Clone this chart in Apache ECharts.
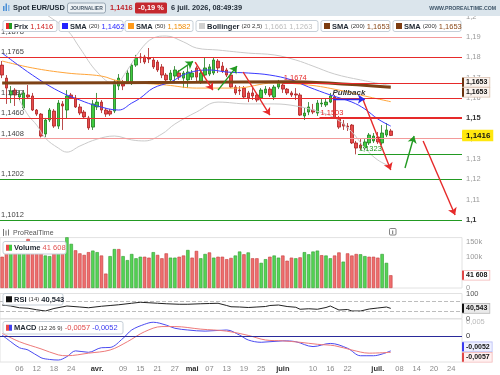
<!DOCTYPE html>
<html>
<head>
<meta charset="utf-8">
<title>Spot EUR/USD</title>
<script src="https://cdn.jsdelivr.net/npm/echarts@6.0.0/dist/echarts.min.js"></script>
<style>
    html, body { margin: 0; padding: 0; background: #fff; }
    #chart { width: 500px; height: 375px; }
</style>
</head>
<body>
<div id="chart"></div>
<script>
const FONT = '"Liberation Sans", Arial, sans-serif';

// trading days on the axis: 2 mars 2026 -> 28 juil. 2026
const FIRST_DAY = Date.UTC(2026, 2, 2);
const DAY_COUNT = 107;

const TICK_LABELS = [
    ['03-06', '06'], ['03-12', '12'], ['03-18', '18'], ['03-24', '24'], ['04-01', 'avr.'],
    ['04-09', '09'], ['04-15', '15'], ['04-21', '21'], ['04-27', '27'], ['05-01', 'mai'],
    ['05-07', '07'], ['05-13', '13'], ['05-19', '19'], ['05-25', '25'], ['06-01', 'juin'],
    ['06-10', '10'], ['06-16', '16'], ['06-22', '22'], ['07-01', 'juil.'], ['07-08', '08'],
    ['07-14', '14'], ['07-20', '20'], ['07-24', '24']
];
const MONTH_LABELS = ['avr.', 'mai', 'juin', 'juil.'];

const priceTicks = [1.10, 1.11, 1.12, 1.13, 1.14, 1.15, 1.16, 1.17, 1.18, 1.19, 1.20];
const volumeTicks = [0, 100, 150];
const rsiTicks = [0, 100];
const macdTicks = [0, 0.005];

// daily candles [open, close, low, high]
const candles = [
    [1.1762, 1.1713, 1.1698, 1.1782], [1.1698, 1.1649, 1.1571, 1.1713], [1.1615, 1.1635, 1.1575, 1.1659],
    [1.1639, 1.1615, 1.1561, 1.1649], [1.1605, 1.1620, 1.1590, 1.1639], [1.1551, 1.1625, 1.1541, 1.1639],
    [1.1615, 1.1605, 1.1595, 1.1664], [1.1610, 1.1541, 1.1536, 1.1625], [1.1541, 1.1521, 1.1512, 1.1546],
    [1.1521, 1.1413, 1.1406, 1.1526], [1.1423, 1.1492, 1.1408, 1.1502], [1.1492, 1.1541, 1.1482, 1.1551],
    [1.1536, 1.1462, 1.1453, 1.1546], [1.1462, 1.1575, 1.1448, 1.1590], [1.1571, 1.1561, 1.1443, 1.1585],
    [1.1541, 1.1610, 1.1497, 1.1639], [1.1615, 1.1600, 1.1595, 1.1625], [1.1600, 1.1556, 1.1551, 1.1615],
    [1.1556, 1.1526, 1.1516, 1.1571], [1.1531, 1.1507, 1.1502, 1.1541], [1.1502, 1.1453, 1.1443, 1.1512],
    [1.1457, 1.1571, 1.1443, 1.1590], [1.1556, 1.1580, 1.1541, 1.1625], [1.1580, 1.1541, 1.1526, 1.1590],
    [1.1541, 1.1521, 1.1507, 1.1551], [1.1536, 1.1521, 1.1512, 1.1546], [1.1536, 1.1679, 1.1526, 1.1689],
    [1.1659, 1.1698, 1.1639, 1.1718], [1.1669, 1.1659, 1.1639, 1.1689], [1.1679, 1.1723, 1.1669, 1.1738],
    [1.1674, 1.1762, 1.1664, 1.1772], [1.1762, 1.1797, 1.1753, 1.1812], [1.1802, 1.1797, 1.1772, 1.1821],
    [1.1802, 1.1777, 1.1767, 1.1812], [1.1797, 1.1792, 1.1772, 1.1846], [1.1787, 1.1753, 1.1743, 1.1802],
    [1.1777, 1.1738, 1.1728, 1.1787], [1.1753, 1.1713, 1.1698, 1.1767], [1.1713, 1.1689, 1.1679, 1.1723],
    [1.1689, 1.1723, 1.1679, 1.1738], [1.1708, 1.1738, 1.1684, 1.1757], [1.1723, 1.1703, 1.1689, 1.1738],
    [1.1698, 1.1723, 1.1649, 1.1733], [1.1689, 1.1728, 1.1649, 1.1757], [1.1703, 1.1723, 1.1689, 1.1738],
    [1.1748, 1.1703, 1.1674, 1.1757], [1.1679, 1.1723, 1.1669, 1.1738], [1.1713, 1.1748, 1.1703, 1.1797],
    [1.1718, 1.1753, 1.1708, 1.1767], [1.1723, 1.1787, 1.1713, 1.1797], [1.1782, 1.1748, 1.1723, 1.1792],
    [1.1757, 1.1733, 1.1723, 1.1777], [1.1738, 1.1713, 1.1703, 1.1748], [1.1713, 1.1654, 1.1649, 1.1728],
    [1.1654, 1.1625, 1.1615, 1.1664], [1.1639, 1.1635, 1.1615, 1.1659], [1.1649, 1.1605, 1.1600, 1.1659],
    [1.1625, 1.1600, 1.1580, 1.1635], [1.1625, 1.1610, 1.1590, 1.1649], [1.1615, 1.1590, 1.1580, 1.1625],
    [1.1600, 1.1639, 1.1590, 1.1649], [1.1625, 1.1644, 1.1615, 1.1659], [1.1644, 1.1615, 1.1605, 1.1654],
    [1.1605, 1.1654, 1.1590, 1.1664], [1.1654, 1.1674, 1.1644, 1.1689], [1.1664, 1.1644, 1.1625, 1.1674],
    [1.1644, 1.1625, 1.1615, 1.1649], [1.1625, 1.1615, 1.1605, 1.1635], [1.1620, 1.1615, 1.1590, 1.1649],
    [1.1615, 1.1516, 1.1512, 1.1625], [1.1512, 1.1526, 1.1492, 1.1551], [1.1531, 1.1556, 1.1516, 1.1580],
    [1.1541, 1.1531, 1.1521, 1.1571], [1.1526, 1.1575, 1.1512, 1.1590], [1.1571, 1.1575, 1.1556, 1.1595],
    [1.1566, 1.1580, 1.1556, 1.1600], [1.1580, 1.1610, 1.1575, 1.1625], [1.1605, 1.1502, 1.1497, 1.1615],
    [1.1502, 1.1457, 1.1448, 1.1512], [1.1472, 1.1462, 1.1443, 1.1492], [1.1462, 1.1457, 1.1438, 1.1477],
    [1.1467, 1.1379, 1.1374, 1.1472], [1.1379, 1.1354, 1.1323, 1.1389], [1.1369, 1.1354, 1.1344, 1.1398],
    [1.1354, 1.1384, 1.1344, 1.1398], [1.1379, 1.1418, 1.1369, 1.1428], [1.1389, 1.1413, 1.1379, 1.1428],
    [1.1408, 1.1384, 1.1374, 1.1433], [1.1379, 1.1428, 1.1369, 1.1467], [1.1418, 1.1443, 1.1408, 1.1477],
    [1.1438, 1.1416, 1.1413, 1.1448]
];

// indicators: [session index, value]
const sma20 = [[0, 1.1821], [7, 1.1713], [13, 1.1635], [18, 1.1590], [22, 1.1561], [27, 1.1541], [30, 1.1575],
    [32, 1.1600], [35, 1.1649], [39, 1.1679], [43, 1.1723], [48, 1.1738], [52, 1.1728], [57, 1.1723],
    [62, 1.1713], [67, 1.1689], [71, 1.1654], [76, 1.1615], [81, 1.1580], [84, 1.1546], [87, 1.1497], [90, 1.1462]];
const sma50 = [[0, 1.1782], [7, 1.1748], [15, 1.1723], [23, 1.1708], [27, 1.1684], [38, 1.1664], [45, 1.1649],
    [54, 1.1649], [63, 1.1674], [71, 1.1664], [78, 1.1639], [85, 1.1605], [90, 1.1582]];
const sma200 = [[0, 1.1674], [45, 1.1677], [66, 1.1680], [90, 1.1653]];
const bollUpper = [[0, 1.2230], [9, 1.2033], [15, 1.1935], [18, 1.1846], [22, 1.1728], [26, 1.1669], [29, 1.1738],
    [32, 1.1836], [35, 1.1895], [38, 1.1905], [42, 1.1876], [45, 1.1846], [50, 1.1836], [57, 1.1821],
    [63, 1.1812], [68, 1.1787], [72, 1.1757], [77, 1.1718], [83, 1.1689], [90, 1.1661]];
const bollLower = [[4, 1.1590], [6, 1.1516], [8, 1.1467], [10, 1.1403], [13, 1.1354], [15, 1.1334], [18, 1.1364],
    [22, 1.1398], [26, 1.1413], [30, 1.1394], [33, 1.1389], [37, 1.1423], [40, 1.1472], [45, 1.1531],
    [50, 1.1580], [57, 1.1571], [63, 1.1571], [68, 1.1561], [72, 1.1541], [77, 1.1502], [81, 1.1433],
    [84, 1.1354], [87, 1.1295], [90, 1.1263]];

// horizontal levels
const resistanceLevels = [1.1878, 1.1765, 1.1587, 1.1460, 1.1408];
const supportLevels = [1.1202, 1.1012];
const partialResistances = [[65, 1.1674], [73.5, 1.1503]];   // [from index, value]
const partialSupports = [[82.4, 1.1323]];

// drawn arrows [[from], [to]]
const arrowsUp = [[[40.3, 1.1723], [44.2, 1.1780]], [[50, 1.1639], [54.4, 1.1757]], [[93.3, 1.1256], [95.4, 1.1413]]];
const arrowsDown = [[[44.7, 1.1777], [48.8, 1.1639]], [[55.8, 1.1728], [62, 1.1516]],
    [[83.6, 1.1590], [90, 1.1246]], [[97.5, 1.1389], [104.9, 1.1025]]];
const pullbackArrow = [[76.6, 1.1595], [84, 1.1595]];

// volume (thousands) and bar direction u/d
const volumes = [102, 120, 125, 118, 130, 128, 160, 122, 125, 150, 106, 104, 115, 120, 112,
    167, 144, 123, 113, 108, 117, 122, 117, 106, 47, 104, 127, 127, 104, 91, 111, 97, 102, 102, 99,
    117, 108, 97, 113, 99, 99, 102, 106, 124, 99, 121, 97, 111, 116, 99, 102, 102, 94, 98, 106, 119, 110,
    116, 97, 97, 82, 94, 102, 106, 99, 106, 89, 99, 97, 100, 117, 110, 119, 122, 107, 106, 97, 106, 116,
    86, 113, 106, 111, 110, 104, 102, 102, 99, 111, 82, 41.608];
const volumeDirs = ['dduduu', 'dddduu', 'dud',
    'uudddd', 'uudduu', 'duuuuu', 'ddu' + 'ddd', 'uuddud', 'duudud', 'ddduud',
    'udduud', 'uudddu', 'duuuud', 'uuddud', 'dduudd', 'duud'].join('');

const rsi = [[0, 54], [2, 50], [4, 43], [6, 41], [8, 35], [10, 30], [12, 40], [15, 50], [18, 46], [20, 43],
    [23, 49], [25, 52], [27, 55], [30, 61], [32, 65], [34, 63], [36, 61], [38, 59], [41, 57], [43, 57],
    [46, 59], [48, 60], [50, 61], [52, 52], [53, 47], [55, 46], [57, 44], [59, 46], [61, 48], [62, 52],
    [64, 54], [66, 48], [68, 45], [69, 37], [71, 39], [73, 37], [75, 44], [76, 50], [77, 42], [78, 34],
    [80, 36], [81, 30], [83, 30], [85, 38], [87, 42], [89, 46], [90, 40.543]];
const macd = [[0, 0.0003], [2, -0.0020], [4, -0.0041], [6, -0.0049], [9, -0.0076], [11, -0.0082], [13, -0.0084],
    [15, -0.0072], [17, -0.0052], [20, -0.0057], [23, -0.0041], [25, -0.0040], [28, -0.0008], [30, 0.0021],
    [33, 0.0041], [35, 0.0048], [38, 0.0038], [40, 0.0027], [43, 0.0021], [47, 0.0017], [52, 0.0021],
    [55, 0.0003], [57, -0.0014], [60, -0.0022], [65, -0.0017], [68, -0.0020], [72, -0.0037], [76, -0.0026],
    [80, -0.0043], [83, -0.0069], [86, -0.0069], [88, -0.0063], [90, -0.0052]];
const macdSignal = [[0, 0.0009], [4, -0.0020], [9, -0.0045], [13, -0.0066], [15, -0.0069], [20, -0.0060],
    [25, -0.0049], [29, -0.0020], [33, 0.0015], [37, 0.0033], [40, 0.0033], [46, 0.0024], [52, 0.0017],
    [57, 0.0002], [61, -0.0014], [65, -0.0017], [69, -0.0022], [73, -0.0029], [77, -0.0034], [81, -0.0049],
    [85, -0.0060], [90, -0.0057]];

// last values shown as boxes on the right scales
const lastPrice = 1.1416, lastSma200 = 1.1653, lastVolume = 41.608, lastRsi = 40.543;
const lastMacd = -0.0052, lastSignal = -0.0057;

const UP = '#3fcb3f', UP_BORDER = '#1d7a1d';
const DOWN = '#ea4a4a', DOWN_BORDER = '#a82020';
const RED = '#e62a2a', GREEN = '#229a22', BLUE = '#2c2cf0';

function buildSessions() {
    const out = [];
    for (let t = FIRST_DAY; out.length < DAY_COUNT; t += 86400000) {
        const d = new Date(t);
        if (d.getUTCDay() === 0 || d.getUTCDay() === 6) continue;
        out.push(d.toISOString().slice(5, 10));
    }
    return out;
}

function comma(v, digits) {
    return v.toFixed(digits).replace('.', ',');
}

function levelLine(v, color, labelColor) {
    return {
        yAxis: v,
        lineStyle: {color: color, width: 1, type: 'solid'},
        label: {show: true, position: 'insideStartTop', distance: 1, formatter: comma(v, 4),
            color: labelColor, fontSize: 7.5, fontFamily: FONT}
    };
}

function partialLine(item, color) {
    return [{
        coord: [item[0], item[1]],
        lineStyle: {color: color, width: 1, type: 'solid'},
        label: {show: true, position: 'insideStartTop', distance: 1, formatter: comma(item[1], 4),
            color: color, fontSize: 7.5, fontFamily: FONT}
    }, {coord: [DAY_COUNT - 0.5, item[1]]}];
}

function arrow(pair, color) {
    return [{coord: pair[0], lineStyle: {color: color, width: 1.4, type: 'solid'}, label: {show: false}},
        {coord: pair[1]}];
}

function legendBox(x, y, w, h, icon, text, rich) {
    const els = [{type: 'rect', z: 100, shape: {x: x, y: y, width: w, height: h, r: 2},
        style: {fill: '#fff', stroke: '#c6cfd8', lineWidth: 1}}];
    icon.forEach(function (c, k) {
        els.push({type: 'rect', z: 101, shape: {x: x + 3 + k * 3, y: y + h / 2 - 3, width: 6 / icon.length + 0.01, height: 6},
            style: {fill: c, stroke: null}});
    });
    els.push({type: 'text', z: 101, x: x + 11, y: y + h / 2 + 0.5,
        style: {text: text, rich: rich, verticalAlign: 'middle', font: '7.5px ' + FONT, fill: '#222'}});
    return els;
}

function legendRich(valueColor) {
    return {
        n: {fontSize: 7.5, fontWeight: 'bold', fontFamily: FONT, fill: '#1e2630'},
        p: {fontSize: 6, fontFamily: FONT, fill: '#333'},
        v: {fontSize: 7.5, fontFamily: FONT, fill: valueColor}
    };
}

// a value box on the right scale, centred on pixel y
function valueTag(y, text, bg, border, bar, size) {
    return [
        {type: 'text', z: 110, x: 463, y: y, style: {text: text, font: 'bold ' + (size || 7) + 'px ' + FONT, fill: '#151515',
            backgroundColor: bg, borderColor: border, borderWidth: 0.8, padding: [1.5, 2, 0.5, 3], verticalAlign: 'middle'}},
        {type: 'rect', z: 111, shape: {x: 462, y: y - 4.5, width: 2, height: 9}, style: {fill: bar}}
    ];
}

function drawChart() {
    const sessions = buildSessions();
    const tickMap = new Map(TICK_LABELS);
    const myChart = echarts.init(document.getElementById('chart'), null, {renderer: 'canvas'});

    const volumeData = volumes.map(function (v, i) {
        const up = volumeDirs[i] === 'u';
        return {value: v, itemStyle: {color: up ? '#55d455' : '#ee6e6e', borderColor: up ? '#2f9a2f' : '#c83c3c', borderWidth: 0.6}};
    });

    const levels = [];
    resistanceLevels.forEach(function (v) {
        const faint = (v === 1.1878 || v === 1.1408);
        levels.push(levelLine(v, faint ? '#f39a9a' : RED, '#444'));
    });
    supportLevels.forEach(function (v) { levels.push(levelLine(v, GREEN, '#444')); });
    partialResistances.forEach(function (p) { levels.push(partialLine(p, RED)); });
    partialSupports.forEach(function (p) { levels.push(partialLine(p, GREEN)); });

    const arrows = [];
    arrowsUp.forEach(function (a) { arrows.push(arrow(a, GREEN)); });
    arrowsDown.forEach(function (a) { arrows.push(arrow(a, RED)); });
    const pb = arrow(pullbackArrow, BLUE);
    pb[0].label = {show: true, position: 'middle', formatter: 'Pullback', distance: 2, color: '#333',
        fontSize: 8, fontStyle: 'italic', fontWeight: 'bold', fontFamily: FONT};
    arrows.push(pb);

    const axisText = {fontSize: 7.5, fontFamily: FONT};
    const hiddenValueX = function (grid) {
        return {type: 'value', gridIndex: grid, min: -0.5, max: DAY_COUNT - 0.5, show: false};
    };
    const hiddenCatX = function (grid) {
        return {type: 'category', gridIndex: grid, data: sessions, boundaryGap: true, show: false};
    };

    const option = {
        animation: false,
        backgroundColor: '#fff',
        grid: [
            {left: 0, right: 38, top: 14, height: 214},
            {left: 0, right: 38, top: 237.6, height: 50.4, show: true, borderColor: '#e2e2e2', borderWidth: 1},
            {left: 0, right: 38, top: 293.5, height: 25, show: true, borderColor: '#e2e2e2', borderWidth: 1},
            {left: 0, right: 38, top: 319, height: 43, show: true, borderColor: '#e2e2e2', borderWidth: 1}
        ],
        xAxis: [
            hiddenCatX(0), hiddenValueX(0), hiddenCatX(1), hiddenValueX(2), hiddenValueX(3),
            {
                type: 'category', gridIndex: 3, data: sessions, boundaryGap: true, position: 'bottom',
                axisLine: {show: false}, axisTick: {show: false}, splitLine: {show: false},
                axisLabel: {
                    show: true, margin: 3,
                    interval: function (idx, val) { return tickMap.has(val); },
                    formatter: function (val) {
                        const t = tickMap.get(val);
                        return MONTH_LABELS.indexOf(t) >= 0 ? '{m|' + t + '}' : '{d|' + t + '}';
                    },
                    rich: {
                        m: {fontSize: 7.5, fontWeight: 'bold', fontFamily: FONT, color: '#333'},
                        d: {fontSize: 7.5, fontFamily: FONT, color: '#8a8a8a'}
                    }
                }
            }
        ],
        yAxis: [
            {
                type: 'value', gridIndex: 0, position: 'right', min: 1.09607, max: 1.20133, scale: true,
                axisLine: {show: false}, axisTick: {show: false}, splitLine: {show: false},
                axisLabel: {
                    customValues: priceTicks, margin: 4,
                    formatter: function (v) {
                        const s = String(Math.round(v * 100) / 100).replace('.', ',');
                        const strong = Math.abs(v - 1.15) < 1e-6 || Math.abs(v - 1.1) < 1e-6;
                        return strong ? '{k|' + s + '}' : '{g|' + s + '}';
                    },
                    rich: {
                        k: {fontSize: 7.5, fontWeight: 'bold', fontFamily: FONT, color: '#333'},
                        g: {fontSize: 7.5, fontFamily: FONT, color: '#9a9a9a'}
                    }
                }
            },
            {
                type: 'value', gridIndex: 1, position: 'right', min: 0, max: 164.4,
                axisLine: {show: false}, axisTick: {show: false}, splitLine: {show: false},
                axisLabel: Object.assign({customValues: volumeTicks, margin: 4, color: '#9a9a9a',
                    formatter: function (v) { return v === 0 ? '0' : v + 'k'; }}, axisText)
            },
            {
                type: 'value', gridIndex: 2, position: 'right', min: 0, max: 100,
                axisLine: {show: false}, axisTick: {show: false}, splitLine: {show: false},
                axisLabel: Object.assign({customValues: rsiTicks, margin: 4, color: '#555'}, axisText)
            },
            {
                type: 'value', gridIndex: 3, position: 'right', min: -0.00909, max: 0.00594,
                axisLine: {show: false}, axisTick: {show: false}, splitLine: {show: false},
                axisLabel: Object.assign({customValues: macdTicks, margin: 4,
                    formatter: function (v) { return v === 0 ? '{k|0}' : '{g|' + comma(v, 3) + '}'; },
                    rich: {k: {color: '#333', fontSize: 7.5, fontFamily: FONT}, g: {color: '#bbb', fontSize: 7.5, fontFamily: FONT}}
                }, axisText)
            }
        ],
        series: [
            {
                name: 'niveaux', type: 'line', xAxisIndex: 1, yAxisIndex: 0, data: [], z: 1,
                markLine: {silent: true, symbol: ['none', 'none'], animation: false, data: levels}
            },
            {
                name: 'Prix', type: 'candlestick', xAxisIndex: 0, yAxisIndex: 0, z: 2,
                barWidth: 3,
                itemStyle: {color: UP, color0: DOWN, borderColor: UP_BORDER, borderColor0: DOWN_BORDER, borderWidth: 0.8},
                data: candles
            },
            {
                name: 'Bollinger haut', type: 'line', xAxisIndex: 1, yAxisIndex: 0, z: 3, smooth: 0.4,
                showSymbol: false, lineStyle: {color: '#cacaca', width: 1}, data: bollUpper
            },
            {
                name: 'Bollinger bas', type: 'line', xAxisIndex: 1, yAxisIndex: 0, z: 3, smooth: 0.4,
                showSymbol: false, lineStyle: {color: '#cacaca', width: 1}, data: bollLower
            },
            {
                name: 'SMA 50', type: 'line', xAxisIndex: 1, yAxisIndex: 0, z: 3, smooth: 0.4,
                showSymbol: false, lineStyle: {color: '#ffa53a', width: 1}, data: sma50
            },
            {
                name: 'SMA 20', type: 'line', xAxisIndex: 1, yAxisIndex: 0, z: 3, smooth: 0.4,
                showSymbol: false, lineStyle: {color: '#3a3aff', width: 1}, data: sma20
            },
            {
                name: 'SMA 200', type: 'line', xAxisIndex: 1, yAxisIndex: 0, z: 3, smooth: 0.3,
                showSymbol: false, lineStyle: {color: '#7d4216', width: 3}, data: sma200
            },
            {
                name: 'fleches', type: 'line', xAxisIndex: 1, yAxisIndex: 0, data: [], z: 5,
                markLine: {silent: true, symbol: ['none', 'arrow'], symbolSize: 7, animation: false, data: arrows}
            },
            {
                name: 'Volume', type: 'bar', xAxisIndex: 2, yAxisIndex: 1, barWidth: 3.4, data: volumeData
            },
            {
                name: 'RSI', type: 'line', xAxisIndex: 3, yAxisIndex: 2, showSymbol: false,
                lineStyle: {color: '#222', width: 1}, data: rsi,
                markLine: {
                    silent: true, symbol: ['none', 'none'], animation: false,
                    data: [
                        {yAxis: 70, lineStyle: {color: '#bdbdbd', type: 'dashed', width: 1}, label: {show: false}},
                        {yAxis: 30, lineStyle: {color: '#bdbdbd', type: 'dashed', width: 1}, label: {show: false}}
                    ]
                }
            },
            {
                name: 'MACD', type: 'line', xAxisIndex: 4, yAxisIndex: 3, showSymbol: false, smooth: 0.35,
                lineStyle: {color: '#4a4af0', width: 1}, data: macd,
                markLine: {
                    silent: true, symbol: ['none', 'none'], animation: false,
                    data: [{yAxis: 0, lineStyle: {color: '#2a2a9a', type: 'solid', width: 1.2}, label: {show: false}}]
                }
            },
            {
                name: 'Signal', type: 'line', xAxisIndex: 4, yAxisIndex: 3, showSymbol: false, smooth: 0.35,
                lineStyle: {color: '#ee7a7a', width: 1}, data: macdSignal
            }
        ]
    };

    myChart.setOption(option, true);

    // right-scale value boxes, placed through the axes' own scales
    const py = function (axis, v) { return myChart.convertToPixel({yAxisIndex: axis}, v); };
    let tags = [];
    tags = tags.concat(valueTag(py(0, lastSma200) - 5, comma(lastSma200, 4), '#faf3ee', '#d8bfae', '#6b3410'));
    tags = tags.concat(valueTag(py(0, lastSma200) + 5, comma(lastSma200, 4), '#faf3ee', '#d8bfae', '#6b3410'));
    tags = tags.concat(valueTag(py(0, lastPrice), comma(lastPrice, 4), '#ffe70f', '#ffe70f', '#ffe70f', 8));
    tags = tags.concat(valueTag(py(1, lastVolume), '41 608', '#fff', '#f3b5b5', '#e04848'));
    tags = tags.concat(valueTag(py(2, lastRsi), comma(lastRsi, 3), '#eaeaea', '#bbb', '#111'));
    tags = tags.concat(valueTag(py(3, lastMacd) - 4, comma(lastMacd, 4), '#eef0ff', '#b8bcf5', '#3a3af0'));
    tags = tags.concat(valueTag(py(3, lastSignal) + 5, comma(lastSignal, 4), '#fff0f0', '#f3b5b5', '#e04848'));

    myChart.setOption({graphic: buildDecorations().concat(tags)});
}

function buildDecorations() {
    const hdr = 'bold 7.4px ' + FONT;
    let els = [
        {type: 'rect', z: 100, shape: {x: 0, y: 0, width: 500, height: 16}, style: {fill: '#dbe5ec'}},
        {type: 'rect', z: 101, shape: {x: 3, y: 6, width: 1.5, height: 5}, style: {fill: '#4b8fd6'}},
        {type: 'rect', z: 101, shape: {x: 5.5, y: 3.5, width: 1.5, height: 7.5}, style: {fill: '#4b8fd6'}},
        {type: 'rect', z: 101, shape: {x: 8, y: 5, width: 1.5, height: 6}, style: {fill: '#7fb2e6'}},
        {type: 'text', z: 101, x: 13, y: 8, style: {text: 'Spot EUR/USD', font: hdr, fill: '#1d2833', verticalAlign: 'middle'}},
        {type: 'rect', z: 101, shape: {x: 67.5, y: 3, width: 38, height: 10, r: 2}, style: {fill: '#edf2f5', stroke: '#8797a6', lineWidth: 0.8}},
        {type: 'text', z: 102, x: 86.5, y: 8.3, style: {text: 'JOURNALIER', font: 'bold 5px ' + FONT, fill: '#4a5b6b', align: 'center', verticalAlign: 'middle'}},
        {type: 'text', z: 101, x: 110, y: 8, style: {text: '1,1416', font: hdr, fill: '#c0262d', verticalAlign: 'middle'}},
        {type: 'rect', z: 101, shape: {x: 135, y: 2.5, width: 32, height: 11, r: 1.5}, style: {fill: '#c5282e'}},
        {type: 'text', z: 102, x: 151, y: 8.2, style: {text: '-0,19 %', font: hdr, fill: '#fff', align: 'center', verticalAlign: 'middle'}},
        {type: 'text', z: 101, x: 171, y: 8, style: {text: '6 juil. 2026, 08:49:39', font: hdr, fill: '#1d2833', verticalAlign: 'middle'}},
        {type: 'text', z: 101, x: 496, y: 9, style: {text: 'WWW.PROREALTIME.COM', font: 'bold 5.2px ' + FONT, fill: '#3d5468', align: 'right', verticalAlign: 'middle'}}
    ];

    els = els.concat(legendBox(3, 20.5, 54, 11, [RED, GREEN], '{n|Prix} {v|1,1416}', legendRich('#d02424')));
    els = els.concat(legendBox(59, 20.5, 64, 11, ['#2222ff'], '{n|SMA} {p|(20)} {v|1,1462}', legendRich('#2a2aff')));
    els = els.concat(legendBox(125, 20.5, 68, 11, ['#ff9a1a'], '{n|SMA} {p|(50)} {v|1,1582}', legendRich('#f08a00')));
    els = els.concat(legendBox(196, 20.5, 122, 11, ['#cfcfcf'], '{n|Bollinger} {p|(20 2,5)} {v|1,1661 1,1263}', legendRich('#bdbdbd')));
    els = els.concat(legendBox(321, 20.5, 69, 11, ['#7d3c10'], '{n|SMA} {p|(200)} {v|1,1653}', legendRich('#8b4a1a')));
    els = els.concat(legendBox(393, 20.5, 68, 11, ['#7d3c10'], '{n|SMA} {p|(200)} {v|1,1653}', legendRich('#8b4a1a')));

    // lower panels
    els.push({type: 'rect', z: 101, shape: {x: 3, y: 229, width: 1, height: 7}, style: {fill: '#777'}});
    els.push({type: 'rect', z: 101, shape: {x: 5.5, y: 230.5, width: 1, height: 5}, style: {fill: '#777'}});
    els.push({type: 'rect', z: 101, shape: {x: 8, y: 229.5, width: 1, height: 6}, style: {fill: '#777'}});
    els.push({type: 'text', z: 101, x: 13, y: 233, style: {text: 'ProRealTime', font: '7px ' + FONT, fill: '#555', verticalAlign: 'middle'}});
    els.push({type: 'rect', z: 101, shape: {x: 389.5, y: 228.5, width: 6.5, height: 6.5, r: 1}, style: {fill: '#fff', stroke: '#666', lineWidth: 0.8}});
    els.push({type: 'text', z: 102, x: 392.8, y: 232, style: {text: 'i', font: 'bold 5.5px ' + FONT, fill: '#444', align: 'center', verticalAlign: 'middle'}});

    els = els.concat(legendBox(3, 241.5, 63, 12.5, [DOWN, UP], '{n|Volume} {v|41 608}', legendRich('#e05050')));
    els = els.concat(legendBox(3, 293.5, 60, 11.5, ['#111'], '{n|RSI} {p|(14)} {n|40,543}', legendRich('#111')));
    els = els.concat(legendBox(3, 321.5, 120, 12.5, [DOWN, '#4040f0'], '{n|MACD} {p|(12 26 9)} {r|-0,0057} {v|-0,0052}',
        Object.assign(legendRich('#3a3af0'), {r: {fontSize: 7.5, fontFamily: FONT, fill: '#e04848'}})));
    return els;
}

drawChart();
</script>
</body>
</html>
